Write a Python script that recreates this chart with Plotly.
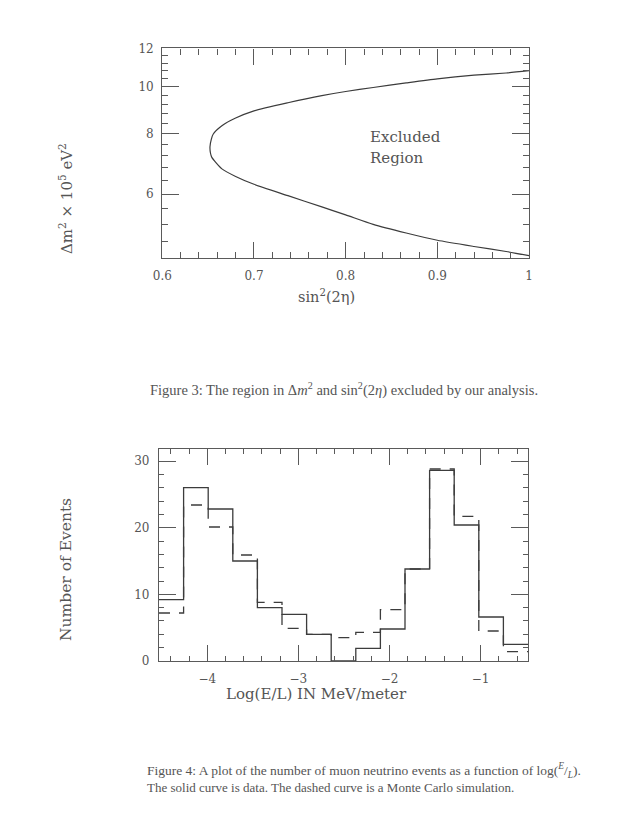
import numpy as np
import plotly.graph_objects as go

# Figure 3: exclusion contour (upper branch -> tip -> lower branch)
sin2_2eta = [1.0, 0.975, 0.94, 0.90, 0.866, 0.83, 0.80, 0.774, 0.737, 0.70, 0.68, 0.665,
             0.6556, 0.6535, 0.652, 0.6525, 0.654, 0.665, 0.68, 0.70, 0.737, 0.774, 0.80,
             0.83, 0.866, 0.90, 0.94, 0.975, 1.0]
dm2 = [10.80, 10.68, 10.57, 10.39, 10.19, 9.97, 9.78, 9.59, 9.27, 8.92, 8.62, 8.31,
       7.99, 7.80, 7.52, 7.30, 7.15, 6.77, 6.53, 6.29, 5.96, 5.65, 5.44,
       5.20, 4.99, 4.82, 4.68, 4.57, 4.48]

# Figure 4: histogram of log(E/L)
bin_edges = [-4.53, -4.26, -3.99, -3.72, -3.45, -3.18, -2.91, -2.64, -2.37, -2.10,
             -1.83, -1.56, -1.29, -1.02, -0.75, -0.48]
data_counts = [9.2, 26, 22.8, 15, 8, 7, 4, 0, 1.9, 4.8, 13.8, 28.6, 20.4, 6.6, 2.5]
mc_counts = [7.2, 23.4, 20.1, 15.9, 8.8, 4.9, 4, 3.5, 4.3, 7.7, 13.8, 28.8, 21.7, 4.5, 1.4]

LINE = "#3c3c3c"
AXIS = "#5a5a5a"
TEXT = "#555555"
SERIF = "DejaVu Serif"
CAP = "Liberation Serif"

# page body has an 8px margin, so the figure is drawn 8px in from the corner
W, H = 634, 822

fig = go.Figure()

fig.add_trace(go.Scatter(x=sin2_2eta, y=dm2, mode="lines", line=dict(color=LINE, width=1.2, shape="spline", smoothing=0.6),
                         xaxis="x", yaxis="y", showlegend=False, hoverinfo="skip"))

fig.add_trace(go.Scatter(x=bin_edges, y=data_counts + [data_counts[-1]], mode="lines",
                         line=dict(color=LINE, width=1.3, shape="hv"),
                         xaxis="x2", yaxis="y2", showlegend=False))
fig.add_trace(go.Scatter(x=bin_edges, y=mc_counts + [mc_counts[-1]], mode="lines",
                         line=dict(color=LINE, width=1.3, shape="hv", dash="11px,9px"),
                         xaxis="x2", yaxis="y2", showlegend=False))

common = dict(showline=True, linecolor=AXIS, linewidth=1.3, mirror="ticks", ticks="inside",
              tickcolor=AXIS, tickwidth=1.1, showgrid=False, zeroline=False, automargin=False,
              tickfont=dict(family=SERIF, size=12, color=TEXT))

y_minor = [4.8, 5.2, 5.6, 6.4, 6.8, 7.2, 7.6, 8.4, 8.8, 9.2, 9.6, 10.4, 10.8, 11.2, 11.6]

fig.update_layout(
    width=W, height=H, margin=dict(l=0, r=0, t=0, b=0),
    paper_bgcolor="white", plot_bgcolor="white",
    xaxis=dict(domain=[0.2434, 0.8218], anchor="y", range=[0.6, 1.0],
               tickvals=[0.6, 0.7, 0.8, 0.9, 1.0], ticktext=["0.6", "0.7", "0.8", "0.9", "1"],
               ticklen=16, ticklabelstandoff=6,
               minor=dict(dtick=0.02, ticks="inside", ticklen=6, tickcolor=AXIS, tickwidth=1), **common),
    yaxis=dict(domain=[0.69526, 0.95073], anchor="x", type="log",
               range=[np.log10(4.42), np.log10(12)],
               tickvals=[6, 8, 10, 12], ticktext=["6", "8", "10", "12"],
               ticklen=17, ticklabelstandoff=5,
               minor=dict(tickvals=y_minor, ticks="inside", ticklen=6, tickcolor=AXIS, tickwidth=1), **common),
    xaxis2=dict(domain=[0.23817, 0.82019], anchor="y2", range=[-4.53, -0.48],
                tickvals=[-4, -3, -2, -1], ticktext=["\u22124", "\u22123", "\u22122", "\u22121"],
                ticklen=16, ticklabelstandoff=6,
                minor=dict(dtick=0.2, tick0=0, ticks="inside", ticklen=5, tickcolor=AXIS, tickwidth=1), **common),
    yaxis2=dict(domain=[0.20560, 0.46350], anchor="x2", range=[0, 31.8],
                tickvals=[0, 10, 20, 30], ticklen=17, ticklabelstandoff=6,
                minor=dict(dtick=2, ticks="inside", ticklen=5, tickcolor=AXIS, tickwidth=1), **common),
)

ann = [
    dict(x=0.0915, y=0.76764, text="\u0394m<sup>2</sup> \u00d7 10<sup>5</sup> eV<sup>2</sup>", textangle=-90,
         font=dict(family=SERIF, size=15, color=TEXT)),
    dict(x=0.50315, y=0.64964, text="sin<sup>2</sup>(2\u03b7)", font=dict(family=SERIF, size=14.5, color=TEXT)),
    dict(x=0.56782, y=0.84307, text="Excluded", xanchor="left", font=dict(family=SERIF, size=15, color=TEXT)),
    dict(x=0.56782, y=0.81752, text="Region", xanchor="left", font=dict(family=SERIF, size=15, color=TEXT)),
    dict(x=0.22082, y=0.53528, xanchor="left",
         text="Figure 3: The region in \u0394<i>m</i><sup>2</sup> and sin<sup>2</sup>(2<i>\u03b7</i>) excluded by our analysis.",
         font=dict(family=CAP, size=14.5, color=TEXT)),
    dict(x=0.0915, y=0.31630, text="Number of Events", textangle=-90, font=dict(family=SERIF, size=15.5, color=TEXT)),
    dict(x=0.48738, y=0.16545, text="Log(E/L) IN MeV/meter", font=dict(family=SERIF, size=15, color=TEXT)),
    dict(x=0.21609, y=0.07299, xanchor="left",
         text="Figure 4: A plot of the number of muon neutrino events as a function of log(<sup><i>E</i></sup>/<sub><i>L</i></sub>).",
         font=dict(family=CAP, size=13.5, color=TEXT)),
    dict(x=0.21609, y=0.05231, xanchor="left",
         text="The solid curve is data. The dashed curve is a Monte Carlo simulation.",
         font=dict(family=CAP, size=13, color=TEXT)),
]
for a in ann:
    a.setdefault("xanchor", "center")
    fig.add_annotation(xref="paper", yref="paper", showarrow=False, yanchor="middle", **a)

fig.write_html("out.html")
